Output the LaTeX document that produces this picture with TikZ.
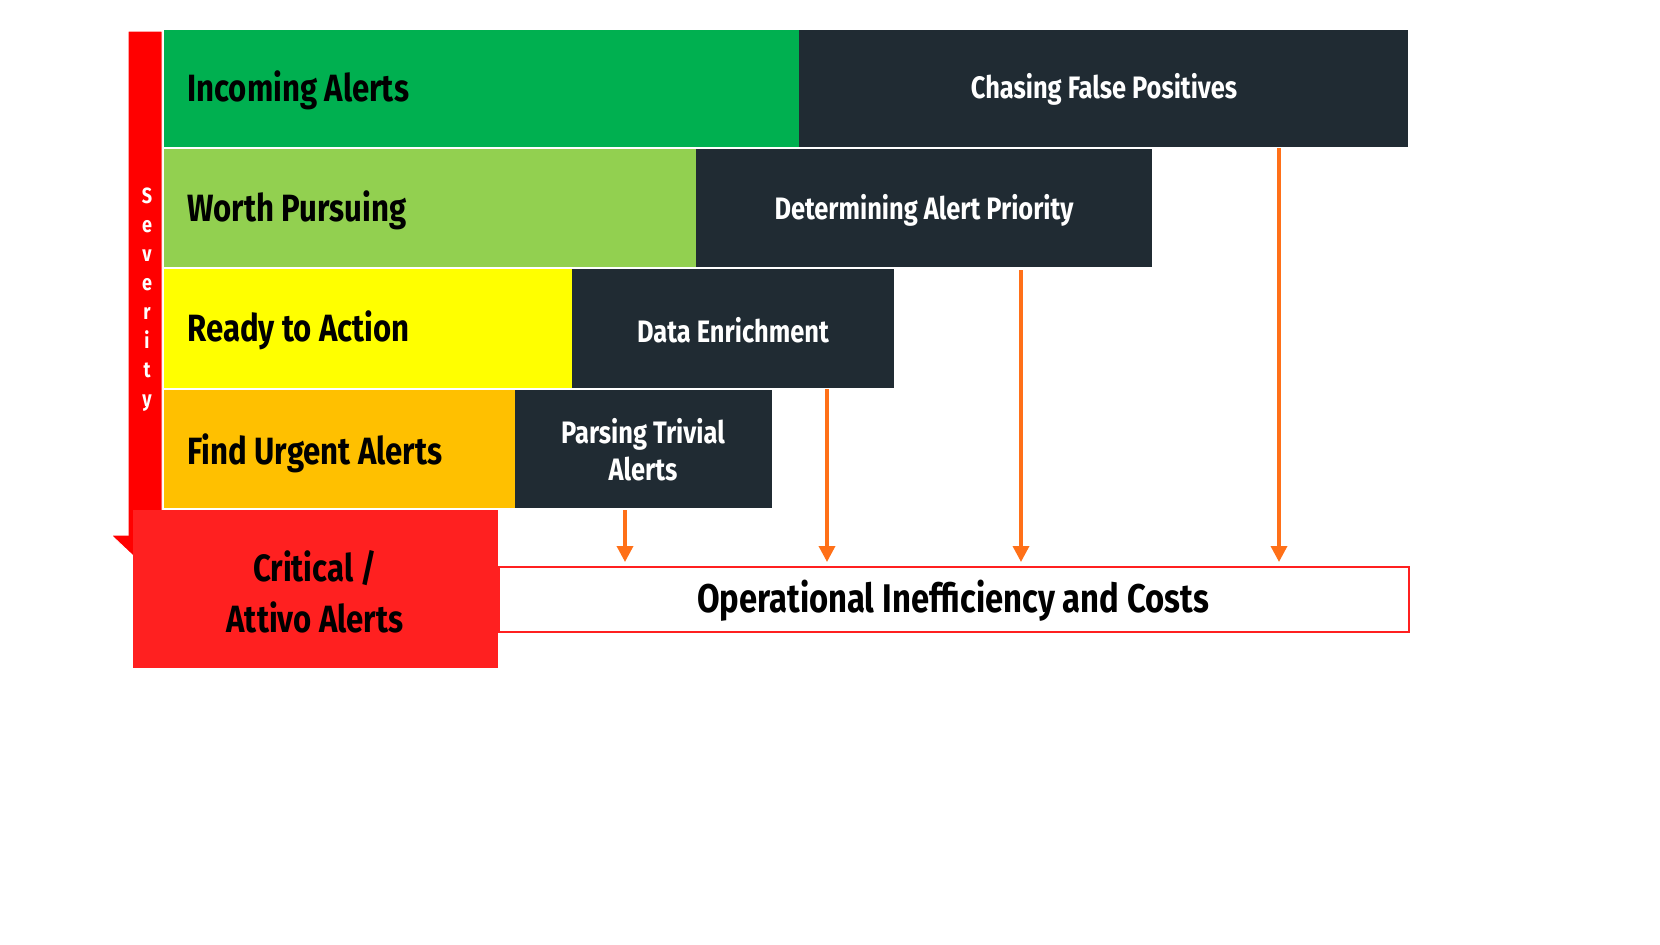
\documentclass[tikz,border=0pt]{standalone}
\usepackage{fontspec}
\setmainfont{Fira Sans}[FakeStretch=0.82]
\begin{document}
\begin{tikzpicture}[x=1pt,y=-1pt,
 lab/.style={anchor=west,font=\fontsize{38}{40}\selectfont\bfseries,text=black},
 dlab/.style={font=\fontsize{31}{37}\selectfont\bfseries,text=white,align=center},
 oarr/.style={draw={rgb,255:red,255;green,112;blue,24},line width=3.5pt,-{Triangle[length=16pt,width=16pt]}}]
\usetikzlibrary{arrows.meta}
\useasboundingbox (0,0) rectangle (1660,945);
\definecolor{dk}{RGB}{32,43,51}
\definecolor{g1}{RGB}{0,176,80}
\definecolor{g2}{RGB}{146,208,80}
\definecolor{yl}{RGB}{255,255,0}
\definecolor{og}{RGB}{255,192,0}
\definecolor{rd}{RGB}{255,32,32}
% severity arrow
\fill[red,draw=white,line width=1pt] (128,31) -- (162,31) -- (162,535) -- (182,535) -- (147,569) -- (111,535) -- (128,535) -- cycle;
\node[text=white,font=\fontsize{22}{29}\selectfont\bfseries,align=center] (sev) at (147,300) {S\\e\\v\\e\\r\\i\\t\\y};
% rows
\fill[g1] (164,30) rectangle (799,147);
\fill[dk] (799,30) rectangle (1408,147);
\fill[g2] (164,149) rectangle (696,267);
\fill[dk] (696,149) rectangle (1152,267);
\fill[yl] (164,269) rectangle (572,388);
\fill[dk] (572,269) rectangle (894,388);
\fill[og] (164,390) rectangle (515,508);
\fill[dk] (515,390) rectangle (772,508);
\node[lab] (r1) at (184,90) {Incoming Alerts};
\node[lab] (r2) at (184,210) {Worth Pursuing};
\node[lab] (r3) at (184,330) {Ready to Action};
\node[lab] (r4) at (184,453) {Find Urgent Alerts};
\node[dlab] (d1) at (1104,89) {Chasing False Positives};
\node[dlab] (d2) at (924,210) {Determining Alert Priority};
\node[dlab] (d3) at (733,330) {Data Enrichment};
\node[dlab] (d4) at (643,450) {Parsing Trivial\\Alerts};
% critical
\fill[rd] (133,510) rectangle (498,668);
\node[font=\fontsize{38}{51}\selectfont\bfseries,align=center] (crit) at (315,592) {Critical /\\Attivo Alerts};
\node[draw=rd,line width=1.5pt,minimum width=910pt,minimum height=65pt,anchor=north west,inner sep=0pt,font=\fontsize{40}{44}\selectfont\bfseries] (op) at (498,566) {};
\node[font=\fontsize{40}{44}\selectfont\bfseries] at (953,601) {Operational Inefficiency and Costs};
\coordinate (t1) at (1279,148); \coordinate (e1) at (1279,562);
\coordinate (t2) at (1021,270); \coordinate (e2) at (1021,562);
\coordinate (t3) at (827,389); \coordinate (e3) at (827,562);
\coordinate (t4) at (625,510); \coordinate (e4) at (625,562);
\draw[oarr] (t1) -- (e1); \draw[oarr] (t2) -- (e2);
\draw[oarr] (t3) -- (e3); \draw[oarr] (t4) -- (e4);
\end{tikzpicture}
\end{document}
